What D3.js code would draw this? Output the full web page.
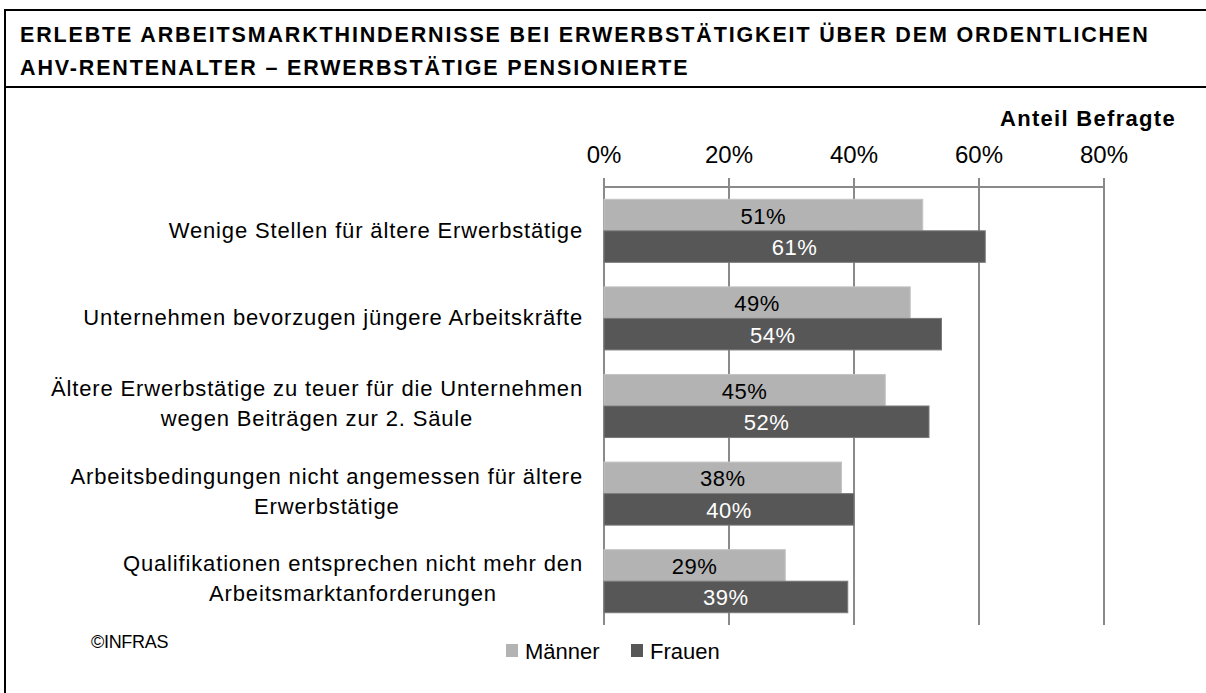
<!DOCTYPE html>
<html><head><meta charset="utf-8">
<script src="https://cdn.jsdelivr.net/npm/d3@7"></script>
<style>body{margin:0;background:#fff}svg{display:block}text{font-family:Arial,"Liberation Sans",sans-serif}</style>
</head><body><svg id="c" width="1206" height="693"></svg>
<script>
const titleLines = ["ERLEBTE ARBEITSMARKTHINDERNISSE BEI ERWERBSTÄTIGKEIT ÜBER DEM ORDENTLICHEN", "AHV-RENTENALTER – ERWERBSTÄTIGE PENSIONIERTE"];
const categories = [
  ["Wenige Stellen für ältere Erwerbstätige"],
  ["Unternehmen bevorzugen jüngere Arbeitskräfte"],
  ["Ältere Erwerbstätige zu teuer für die Unternehmen", "wegen Beiträgen zur 2. Säule"],
  ["Arbeitsbedingungen nicht angemessen für ältere", "Erwerbstätige"],
  ["Qualifikationen entsprechen nicht mehr den", "Arbeitsmarktanforderungen"]
];
const seriesNames = ["Männer", "Frauen"];
const maenner = [51, 49, 45, 38, 29];
const frauen = [61, 54, 52, 40, 39];
const ticks = [0, 20, 40, 60, 80];
const colors = ["#b3b3b3", "#575757"];
const labelColors = ["#000", "#fff"];

const svg = d3.select("#c");
// frame
svg.append("rect").attr("x", 5).attr("y", 10).attr("width", 1210).attr("height", 700)
  .attr("fill", "none").attr("stroke", "#000").attr("stroke-width", 2);
svg.append("line").attr("x1", 5).attr("x2", 1206).attr("y1", 87).attr("y2", 87)
  .attr("stroke", "#000").attr("stroke-width", 2);
svg.selectAll("text.title").data(titleLines).join("text").attr("class", "title")
  .attr("x", 20).attr("y", (d, i) => 42 + i * 33).attr("font-size", 21.5).attr("font-weight", "bold")
  .attr("letter-spacing", 1.85)
  .text(d => d);

const x = d3.scaleLinear().domain([0, 80]).range([604, 1104]);
const y = d3.scaleBand().domain(d3.range(categories.length)).range([187, 625]).paddingInner(0.28).paddingOuter(0.14);
const ys = d3.scaleBand().domain([0, 1]).range([0, y.bandwidth()]);

// gridlines
svg.append("g").selectAll("line").data(ticks).join("line")
  .attr("x1", d => x(d)).attr("x2", d => x(d)).attr("y1", 178).attr("y2", 625)
  .attr("stroke", "#8a8a8a").attr("stroke-width", 2);
svg.append("line").attr("x1", x(0)).attr("x2", x(80)).attr("y1", 187).attr("y2", 187)
  .attr("stroke", "#8a8a8a").attr("stroke-width", 2);
svg.append("g").selectAll("text").data(ticks).join("text")
  .attr("x", d => x(d)).attr("y", 163).attr("text-anchor", "middle").attr("font-size", 24)
  .text(d => d + "%");
svg.append("text").attr("x", 1176).attr("y", 126).attr("text-anchor", "end").attr("font-size", 22)
  .attr("font-weight", "bold").attr("letter-spacing", 1.3)
  .text("Anteil Befragte");

const series = [maenner, frauen];
series.forEach((vals, s) => {
  const g = svg.append("g");
  g.selectAll("rect").data(vals).join("rect")
    .attr("x", x(0)).attr("y", (d, i) => y(i) + ys(s)).attr("width", d => x(d) - x(0)).attr("height", ys.bandwidth())
    .attr("fill", colors[s]).attr("stroke", s === 0 ? "#c4c4c4" : "#7a7a7a").attr("stroke-width", 1);
  g.selectAll("text").data(vals).join("text")
    .attr("x", d => (x(0) + x(d)) / 2).attr("y", (d, i) => y(i) + ys(s) + ys.bandwidth() / 2 + 8.5)
    .attr("text-anchor", "middle").attr("font-size", 22).attr("letter-spacing", 0.5).attr("fill", labelColors[s])
    .text(d => d + "%");
});

// category labels
categories.forEach((lines, i) => {
  const g = svg.append("g");
  const n = lines.length;
  const cy = y(i) + y.bandwidth() / 2;
  const t = g.selectAll("text").data(lines).join("text")
    .attr("y", (d, j) => cy + (n === 1 ? 7 : 5) + (j - (n - 1) / 2) * 30)
    .attr("font-size", 22).attr("letter-spacing", 0.85).attr("text-anchor", "middle").text(d => d);
  let maxW = 0;
  t.each(function () { maxW = Math.max(maxW, this.getComputedTextLength()); });
  t.attr("x", 583 - maxW / 2);
});

svg.append("text").attr("x", 91).attr("y", 648).attr("font-size", 18).attr("letter-spacing", -0.3).text("©INFRAS");

// legend
const legX = [506, 631];
seriesNames.forEach((name, s) => {
  svg.append("rect").attr("x", legX[s]).attr("y", 644).attr("width", 12).attr("height", 13).attr("fill", colors[s]);
  svg.append("text").attr("x", legX[s] + 19).attr("y", 659).attr("font-size", 22).text(name);
});
</script></body></html>
